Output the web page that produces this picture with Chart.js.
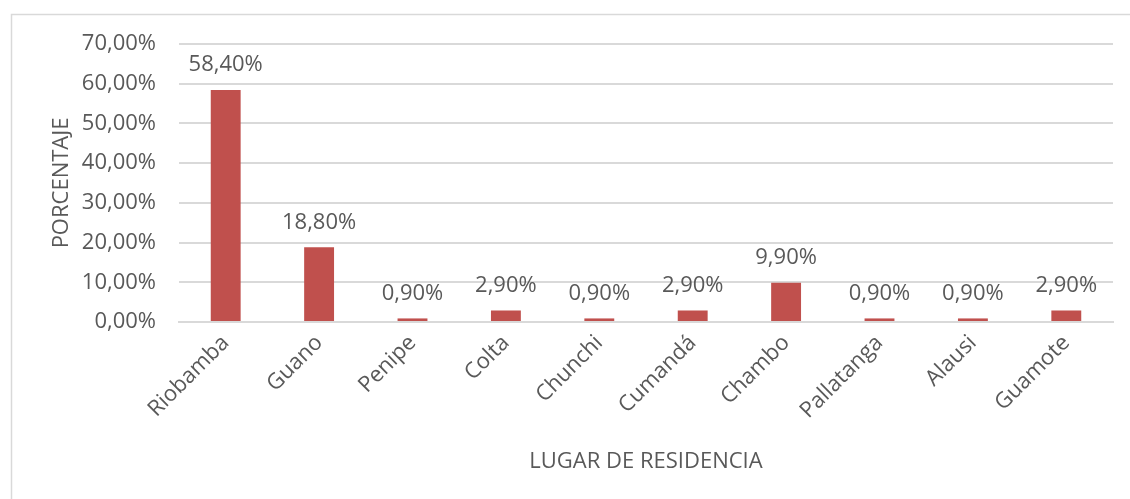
<!DOCTYPE html>
<html>
<head>
<meta charset="utf-8">
<script src="https://cdn.jsdelivr.net/npm/chart.js@4.4.1/dist/chart.umd.min.js"></script>
<style>
html,body{margin:0;padding:0;background:#fff;}
#wrap{position:absolute;left:0;top:0;width:1130px;height:499px;}
</style>
</head>
<body>
<div id="wrap"><canvas id="c" width="1130" height="499"></canvas></div>
<script>
const categories = ["Riobamba","Guano","Penipe","Colta","Chunchi","Cumandá","Chambo","Pallatanga","Alausi","Guamote"];
const porcentaje = [58.4, 18.8, 0.9, 2.9, 0.9, 2.9, 9.9, 0.9, 0.9, 2.9];
const yTickValues = [0, 10, 20, 30, 40, 50, 60, 70];
const yAxisTitle = "PORCENTAJE";
const xAxisTitle = "LUGAR DE RESIDENCIA";

const fmt = v => v.toFixed(2).replace('.', ',') + '%';
const TEXT = '#595959';
const FONT = 'Open Sans';
const FS = 22;

const borderPlugin = {
  id: 'outerBorder',
  beforeDraw(chart) {
    const ctx = chart.ctx;
    ctx.save();
    ctx.strokeStyle = '#d9d9d9';
    ctx.lineWidth = 1.5;
    ctx.strokeRect(11.5, 14.5, 1130, 500);
    ctx.restore();
  }
};

const labelPlugin = {
  id: 'valueLabels',
  afterDatasetsDraw(chart) {
    const ctx = chart.ctx;
    const meta = chart.getDatasetMeta(0);
    const ds = chart.data.datasets[0];
    ctx.save();
    ctx.font = FS + 'px "' + FONT + '"';
    ctx.fillStyle = TEXT;
    ctx.textAlign = 'center';
    ctx.textBaseline = 'middle';
    meta.data.forEach((bar, i) => {
      ctx.fillText(fmt(ds.data[i]), bar.x, bar.y - 25);
    });
    ctx.restore();
  }
};

new Chart(document.getElementById('c'), {
  type: 'bar',
  data: {
    labels: categories,
    datasets: [{
      data: porcentaje,
      backgroundColor: '#c0504d',
      borderWidth: 0,
      barPercentage: 0.32,
      categoryPercentage: 1
    }]
  },
  options: {
    responsive: false,
    animation: false,
    devicePixelRatio: 1,
    layout: { padding: { top: 44, right: 17, left: 0, bottom: 0 } },
    plugins: { legend: { display: false }, tooltip: { enabled: false } },
    scales: {
      x: {
        grid: { display: false, drawTicks: false },
        border: { display: true, color: '#d9d9d9', width: 2 },
        ticks: {
          color: TEXT, font: { family: FONT, size: FS },
          minRotation: 45, maxRotation: 45, padding: 8, autoSkip: false
        },
        title: {
          display: true, text: xAxisTitle, color: TEXT,
          font: { family: FONT, size: FS }, padding: { top: 0, bottom: 24 }
        },
        afterFit(s) { s.height = 499 - 322; }
      },
      y: {
        min: 0, max: 70,
        afterBuildTicks(s) { s.ticks = yTickValues.map(v => ({ value: v })); },
        grid: { color: '#d9d9d9', lineWidth: 2, drawTicks: false },
        border: { display: false },
        ticks: {
          color: TEXT, font: { family: FONT, size: FS }, padding: 23,
          callback: v => fmt(v)
        },
        title: {
          display: true, text: yAxisTitle, color: TEXT,
          font: { family: FONT, size: FS }, padding: { top: 49, bottom: 0 }
        },
        afterFit(s) { s.width = 179; }
      }
    }
  },
  plugins: [borderPlugin, labelPlugin]
});
</script>
</body>
</html>
